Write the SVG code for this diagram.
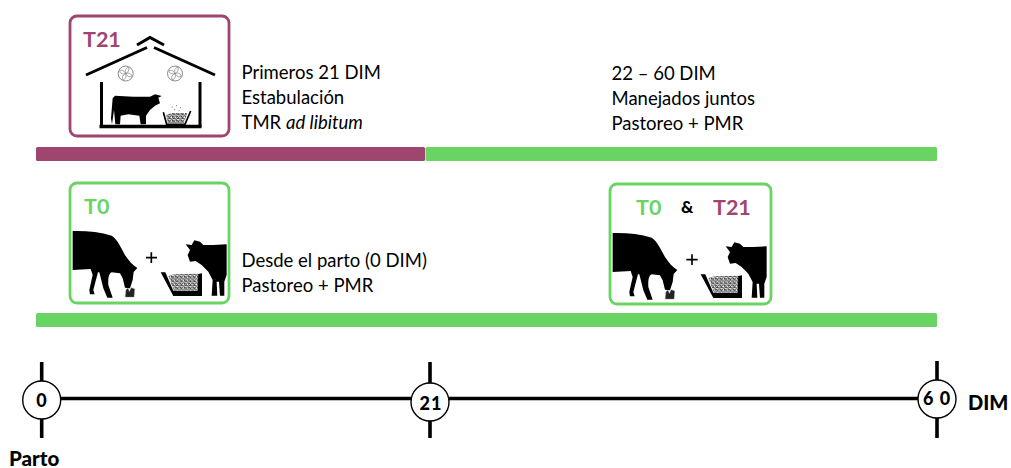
<svg xmlns="http://www.w3.org/2000/svg" width="1011" height="468" viewBox="0 0 1011 468">
<style>
text{font-family:"Lato","Carlito","Noto Sans",sans-serif;fill:#000}
.lbl{font-size:18.500px}
.tag{font-size:21.500px;font-weight:700}
.pu{fill:#a04470}
.gr{fill:#6ad463}
.tick{font-size:18px;font-weight:900;text-anchor:middle;letter-spacing:1px}
.ax{stroke:#000;stroke-width:3.600;fill:none}
.dot{fill:#fff;stroke:#000;stroke-width:1.400}
.box{fill:#fff;stroke-width:2.800}
.roof{stroke:#000;stroke-width:3;fill:none}
</style>
<defs>
<pattern id="hay" width="13" height="11" patternUnits="userSpaceOnUse">
<rect width="13" height="11" fill="#fff"/>
<path d="M0 2L6 0L9 3L13 1M2 7L7 5L11 9M0 10L4 8M8 10L13 6" stroke="#000" stroke-width="2.200" fill="none"/>
</pattern>
<g id="grazer">
<path d="M38 168C80 167 120 171 155 182C172 192 184 220 195 240C205 256 218 270 232 279L221 291L218 315L210 340L195 338L188 310L180 295L155 292C146 296 144 310 145 330L158 368L142 368L130 340L118 292L114 292L106 322L100 345L104 358L90 358L88 345L98 300L92 282L38 285Z" fill="#000"/>
<path d="M196 366L198 344L204 340L208 350L214 338L224 342L222 366Z" fill="#222" stroke="#777" stroke-width="2" stroke-dasharray="3 2"/>
</g>
<g id="stander">
<path d="M377 208L395 210L403 196L420 200L430 210L460 210L500 208L500 300L493 320L493 362L480 362L477 320L470 320L472 362L455 362L458 315L445 290L425 270L407 258L390 260L383 240L390 225Z" fill="#000"/>
</g>
<g id="feeder">
<path d="M302 292L316 292L340 347L412 347L412 298L426 295L426 363L340 363Z" fill="#000"/>
<path d="M325 302L345 298L415 296L413 347L342 347Z" fill="url(#hay)"/>
</g>
<g id="fan">
<circle r="7.500" fill="#fff" stroke="#8a8a8a" stroke-width="1"/>
<path d="M0 0C-1-3 0-6 3-6C4-3 2-1 0 0C3-1 6 0 6 3C3 4 1 2 0 0C1 3 0 6-3 6C-4 3-2 1 0 0C-3 1-6 0-6-3C-3-4-1-2 0 0Z" fill="#fff" stroke="#8a8a8a" stroke-width=".8"/>
</g>
</defs>

<g id="bars">
<rect class="pu" x="36" y="147" width="389" height="14" rx="1.500"/>
<rect class="gr" x="425.500" y="147" width="511.500" height="14" rx="1.500"/>
<rect class="gr" x="36" y="313" width="901" height="14" rx="1.500"/>
</g>

<g id="t21-box">
<rect class="box" x="70" y="16" width="159" height="120" rx="7" stroke="#a04470"/>
<text class="tag pu" x="83" y="47">T21</text>
<g class="roof">
<path d="M86 75L147 47.500M154 47.500L215 75"/>
<path d="M137 45L150 37.500L164 45"/>
</g>
<use href="#fan" x="125.700" y="73.500"/>
<use href="#fan" x="175" y="73.500"/>
<path d="M101.500 82V127M200 82V127" class="roof"/>
<path d="M99.500 126.500H201.500" stroke="#000" stroke-width="3.400"/>
<g transform="translate(100 85) scale(.3333)">
<path d="M38 40L33 100L36 118L40 90L42 75L46 118L60 118L62 92L85 88L118 92L122 118L138 118L138 92L150 75L165 62L180 55L175 38L185 33L165 28L150 35L100 35L45 32Z" fill="#000"/>
<path d="M190 82L200 118L255 118L272 78" fill="none" stroke="#000" stroke-width="5"/>
<path d="M198 90L215 84L262 84L252 114L203 114Z" fill="url(#hay)"/>
<path d="M215 66h3M228 62h3M240 68h3M222 74h3M236 76h3" stroke="#777" stroke-width="3"/>
</g>
</g>

<g id="t0-box">
<rect class="box" x="70" y="183" width="159" height="120" rx="7" stroke="#6ad463"/>
<text class="tag gr" x="84" y="214">T0</text>
<g transform="translate(60 175) scale(.3333)">
<use href="#grazer"/>
<use href="#stander"/>
<use href="#feeder"/>
<path d="M274 232V264M258 248H291" stroke="#000" stroke-width="5"/>
</g>
</g>

<g id="t0-t21-box">
<rect class="box" x="610" y="184" width="161" height="120" rx="7" stroke="#6ad463"/>
<text class="tag gr" x="636" y="215">T0</text>
<text x="681" y="213" font-size="17" font-weight="900">&amp;</text>
<text class="tag pu" x="713" y="215">T21</text>
<g transform="translate(600 177) scale(.3333)">
<use href="#grazer"/>
<use href="#stander"/>
<use href="#feeder"/>
<path d="M276 232V264M259 248H293" stroke="#000" stroke-width="5"/>
</g>
</g>

<g id="notes">
<text class="lbl" x="241.500" y="79">Primeros 21 DIM</text>
<text class="lbl" x="241.500" y="104">Estabulación</text>
<text class="lbl" x="241.500" y="129">TMR <tspan font-style="italic">ad libitum</tspan></text>
<text class="lbl" x="611.500" y="80">22 – 60 DIM</text>
<text class="lbl" x="611.500" y="105">Manejados juntos</text>
<text class="lbl" x="611.500" y="130">Pastoreo + PMR</text>
<text class="lbl" x="241.500" y="267">Desde el parto (0 DIM)</text>
<text class="lbl" x="241.500" y="292">Pastoreo + PMR</text>
</g>

<g id="connectors">
<path class="ax" d="M42 398.500H937M41.700 362V438M430 362V438M937 361V438"/>
</g>

<g id="mark-0">
<circle class="dot" cx="41.700" cy="400" r="19"/>
<text class="tick" x="42" y="407">0</text>
</g>
<g id="mark-21">
<circle class="dot" cx="430" cy="402" r="19"/>
<text class="tick" x="431" y="410">21</text>
</g>
<g id="mark-60">
<circle class="dot" cx="937" cy="399" r="19"/>
<text class="tick" x="937" y="405">6 0</text>
</g>
<text x="968" y="410" font-size="20" font-weight="900">DIM</text>
<text x="9" y="466" font-size="20.500" font-weight="900">Parto</text>
</svg>
